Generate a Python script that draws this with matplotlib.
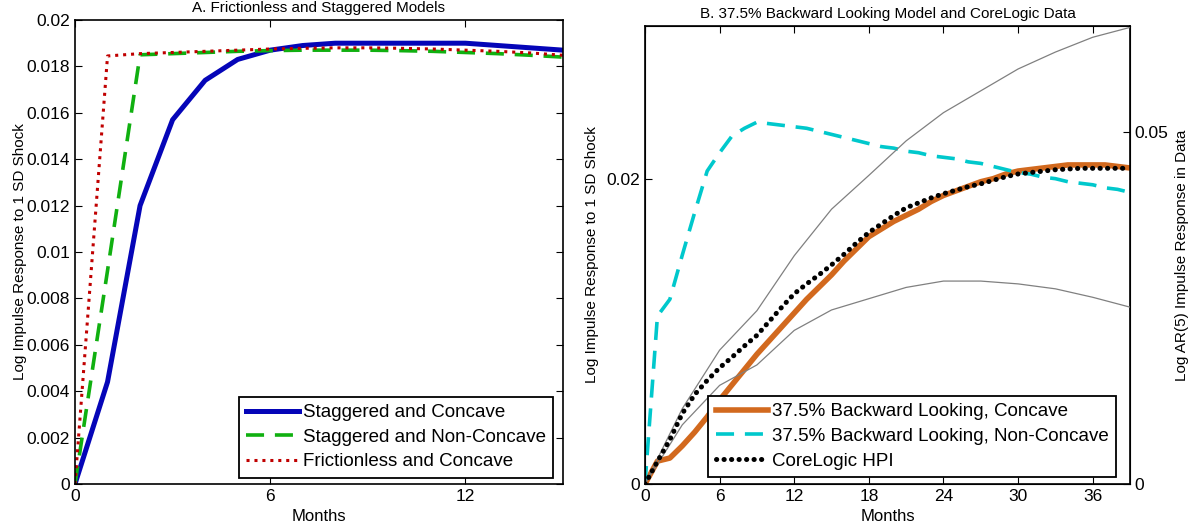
import matplotlib
matplotlib.use("Agg")
import matplotlib.pyplot as plt
from matplotlib.ticker import FuncFormatter
import numpy as np

plt.rcParams['font.family'] = ['Liberation Sans', 'DejaVu Sans']

# ---------------- Panel A: frictionless vs staggered (months 0..15) ----------------
months_a = list(range(16))
staggered_concave = [0, 0.0044, 0.0120, 0.0157, 0.0174, 0.0183, 0.0187, 0.0189,
                     0.0190, 0.0190, 0.0190, 0.0190, 0.0190, 0.0189, 0.0188, 0.0187]
staggered_nonconcave = [0, 0.0092, 0.0185, 0.01855, 0.0186, 0.01865, 0.01868, 0.0187,
                        0.0187, 0.0187, 0.01868, 0.01865, 0.0186, 0.01855, 0.01848, 0.0184]
frictionless_concave = [0, 0.01845, 0.01855, 0.0186, 0.01865, 0.0187, 0.01875, 0.01878,
                        0.0188, 0.0188, 0.01878, 0.01875, 0.0187, 0.01865, 0.01858, 0.01848]

# ---------------- Panel B: backward-looking model and CoreLogic (months 0..39) -------
months_b = list(range(40))
bl_concave = [0, 0.0015, 0.0017, 0.0025, 0.0034, 0.0044, 0.0055, 0.0065, 0.0075, 0.0085,
              0.0094, 0.0103, 0.0112, 0.0121, 0.0129, 0.0137, 0.0146, 0.0154, 0.0162, 0.0167,
              0.0172, 0.0176, 0.0180, 0.0185, 0.0189, 0.0192, 0.0195, 0.0198, 0.0200, 0.0203,
              0.0205, 0.0206, 0.0207, 0.0208, 0.0209, 0.0209, 0.0209, 0.0209, 0.0208, 0.0207]
bl_nonconcave = [0, 0.0110, 0.0121, 0.0150, 0.0178, 0.0205, 0.0217, 0.0228, 0.0233, 0.0237,
                 0.0236, 0.0235, 0.0234, 0.0233, 0.0231, 0.0229, 0.0227, 0.0225, 0.0223, 0.0221,
                 0.0220, 0.0218, 0.0217, 0.0215, 0.0214, 0.0213, 0.0211, 0.0210, 0.0208, 0.0206,
                 0.0204, 0.0203, 0.0201, 0.0200, 0.0198, 0.0197, 0.0196, 0.0194, 0.0193, 0.0191]
corelogic_hpi = [0, 0.0032, 0.0063, 0.0100, 0.0127, 0.0147, 0.0165, 0.0180, 0.0196, 0.0211,
                 0.0231, 0.0251, 0.0270, 0.0284, 0.0297, 0.0311, 0.0326, 0.0342, 0.0357, 0.0369,
                 0.0381, 0.0392, 0.0399, 0.0406, 0.0412, 0.0417, 0.0422, 0.0426, 0.0431, 0.0436,
                 0.0440, 0.0442, 0.0444, 0.0446, 0.0447, 0.0448, 0.0448, 0.0448, 0.0448, 0.0448]
quarters_b = list(range(0, 40, 3))
ci_upper = [0, 0.0107, 0.0190, 0.0246, 0.0324, 0.0390, 0.0438, 0.0487, 0.0527, 0.0558,
            0.0589, 0.0613, 0.0634, 0.0648]
ci_lower = [0, 0.0084, 0.0140, 0.0169, 0.0218, 0.0247, 0.0263, 0.0279, 0.0288, 0.0288,
            0.0284, 0.0277, 0.0265, 0.0251]

W, H = 1193, 529
fig = plt.figure(figsize=(W / 100, H / 100), dpi=100)

def frac(x0, y_top, x1, y_bot):
    return [x0 / W, 1 - y_bot / H, (x1 - x0) / W, (y_bot - y_top) / H]

fmt_g = FuncFormatter(lambda v, p: f"{v:g}")
TICK_FS = 12.5
XLABEL_FS = 12
YLABEL_FS = 11
TITLE_FS = 11
LEG_FS = 13.5
leg_kw = dict(borderaxespad=0, fontsize=LEG_FS, handlelength=2.8, handletextpad=0.2,
              labelspacing=0.4, borderpad=0.4, fancybox=False, framealpha=1,
              edgecolor='black')

def style_axes(ax):
    ax.tick_params(direction='in', labelsize=TICK_FS, length=5, width=0.8)
    for s in ax.spines.values():
        s.set_linewidth(1.2)

# ---------- Panel A ----------
axA = fig.add_axes(frac(75, 20, 563, 484))
axA.plot(months_a, staggered_concave, color='#0505b8', lw=3.6, label='Staggered and Concave')
axA.plot(months_a, staggered_nonconcave, color='#10b010', lw=2.6, ls=(0, (5, 3)),
         label='Staggered and Non-Concave')
axA.plot(months_a, frictionless_concave, color='#c00000', lw=2.2, ls=(0, (1, 1.6)),
         label='Frictionless and Concave')
axA.set_xlim(0, 15)
axA.set_ylim(0, 0.02)
axA.set_xticks([0, 6, 12])
axA.set_yticks(np.arange(0, 0.0201, 0.002))
axA.yaxis.set_major_formatter(fmt_g)
axA.tick_params(top=True, right=True)
style_axes(axA)
axA.set_xlabel('Months', fontsize=XLABEL_FS, labelpad=4)
axA.set_ylabel('Log Impulse Response to 1 SD Shock', fontsize=YLABEL_FS)
axA.yaxis.set_label_coords(-0.098, 0.5)
axA.set_title('A. Frictionless and Staggered Models', fontsize=TITLE_FS, pad=6)
legA = axA.legend(loc='lower right', bbox_to_anchor=(0.98, 0.013), **leg_kw)
legA.get_frame().set_linewidth(1.3)

# ---------- Panel B ----------
axB = fig.add_axes(frac(645, 26, 1130, 484))
l1, = axB.plot(months_b, bl_concave, color='#d2691e', lw=4.0,
               label='37.5% Backward Looking, Concave')
l2, = axB.plot(months_b, bl_nonconcave, color='#00c8cc', lw=2.6, ls=(0, (5, 3)),
               label='37.5% Backward Looking, Non-Concave')
axB.set_xlim(0, 39)
axB.set_ylim(0, 0.03)
axB.set_xticks(range(0, 37, 6))
axB.set_yticks([0, 0.02])
axB.yaxis.set_major_formatter(fmt_g)
axB.tick_params(top=True, right=True, labelright=False)
style_axes(axB)
axB.set_xlabel('Months', fontsize=XLABEL_FS, labelpad=4)
axB.set_ylabel('Log Impulse Response to 1 SD Shock', fontsize=YLABEL_FS)
axB.yaxis.set_label_coords(-0.095, 0.5)
axB.set_title('B. 37.5% Backward Looking Model and CoreLogic Data', fontsize=TITLE_FS, pad=6)

axB2 = axB.twinx()
axB2.plot(quarters_b, ci_upper, color='#808080', lw=0.9)
axB2.plot(quarters_b, ci_lower, color='#808080', lw=0.9)
l3, = axB2.plot(months_b, corelogic_hpi, color='black', lw=3.6, ls=(0, (0.05, 1.45)),
                dash_capstyle='round', label='CoreLogic HPI')
axB2.set_ylim(0, 0.065)
axB2.set_yticks([0, 0.05])
axB2.yaxis.set_major_formatter(fmt_g)
axB2.tick_params(direction='in', labelsize=TICK_FS, length=5, width=0.8)
axB2.set_ylabel('Log AR(5) Impulse Response in Data', fontsize=YLABEL_FS)
axB2.yaxis.set_label_coords(1.092, 0.5)
legB = axB2.legend(handles=[l1, l2, l3], loc='lower left', bbox_to_anchor=(0.13, 0.015),
                   **leg_kw)
legB.get_frame().set_linewidth(1.3)

fig.savefig('out.png', dpi=100)
